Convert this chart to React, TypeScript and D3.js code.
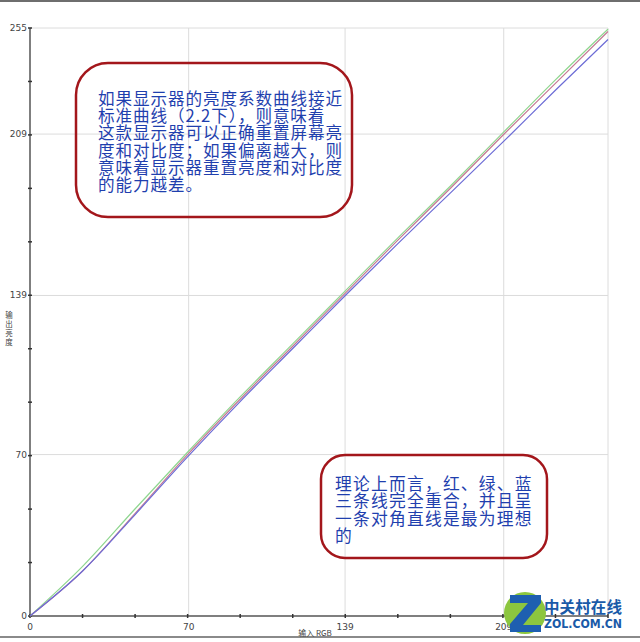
import React from "react";
import * as d3 from "d3";

const inputs = [0, 23.2, 46.4, 69.5, 92.7, 115.9, 139.1, 162.3, 185.5, 208.6, 231.8, 255];
const greenOut = [0, 21.5, 46.5, 71, 95, 118, 141, 164, 186.5, 209.5, 232.5, 254.5];
const redOut = [0, 19.5, 44.5, 70, 94, 117, 140, 163, 185.5, 208.5, 231, 253.5];
const blueOut = [0, 19.5, 44, 69, 93, 116, 139, 161.5, 183.5, 205.5, 228, 250];
const majorTicks = [0, 70, 139, 209, 255];
const tickCount = 11;
const note1 = [
  "如果显示器的亮度系数曲线接近",
  "标准曲线（2.2下），则意味着",
  "这款显示器可以正确重置屏幕亮",
  "度和对比度；如果偏离越大，则",
  "意味着显示器重置亮度和对比度",
  "的能力越差。",
];
const note2 = ["理论上而言，红、绿、蓝", "三条线完全重合，并且呈", "一条对角直线是最为理想", "的"];
const xLabel = "输入 RGB";
const yLabel = ["输", "出", "亮", "度"];

const series = [
  { name: "green", values: greenOut, color: "#8fd68f" },
  { name: "red", values: redOut, color: "#c47a94" },
  { name: "blue", values: blueOut, color: "#6c6cd6" },
];

export default function App() {
  const W = 640, H = 642;
  const x = d3.scaleLinear().domain([0, 255]).range([30, 608]);
  const y = d3.scaleLinear().domain([0, 255]).range([616, 28]);
  const minor = d3.range(tickCount + 1).map((i) => (255 / tickCount) * i);
  const line = d3
    .line<number>()
    .x((_, i) => x(inputs[i]))
    .y((d) => y(d))
    .curve(d3.curveMonotoneX);
  const cjk = "'Noto Sans CJK SC', 'Noto Sans', sans-serif";
  const grid = "#dcdcdc";
  return (
    <svg width={W} height={H} style={{ position: "absolute", left: 0, top: 0, background: "#fff" }}>
      <rect x={0} y={0} width={W} height={H} fill="#fff" />
      <rect x={0} y={0} width={W} height={2} fill="#6e6e6e" />
      <rect x={0} y={636} width={W} height={2} fill="#8a8a8a" />
      {/* gridlines */}
      {majorTicks.slice(1).map((t) => (
        <g key={"g" + t}>
          <line x1={x(0)} x2={x(255)} y1={y(t)} y2={y(t)} stroke={grid} strokeWidth={1} />
          <line x1={x(t)} x2={x(t)} y1={y(0)} y2={y(255)} stroke={grid} strokeWidth={1} />
        </g>
      ))}
      {/* axes */}
      <line x1={x(0)} x2={x(0)} y1={y(0)} y2={y(255)} stroke="#555" strokeWidth={1.5} />
      <line x1={x(0)} x2={x(255)} y1={y(0)} y2={y(0)} stroke="#555" strokeWidth={1.5} />
      {minor.map((t, i) => (
        <g key={"m" + i}>
          <line x1={x(t)} x2={x(t)} y1={y(0) - 2} y2={y(0) + 2} stroke="#333" strokeWidth={1.5} />
          <line x1={x(0) - 2} x2={x(0) + 2} y1={y(t)} y2={y(t)} stroke="#333" strokeWidth={1.5} />
        </g>
      ))}
      {majorTicks.map((t) => (
        <text key={"yl" + t} x={x(0) - 3} y={y(t) + 3} fontSize={9} textAnchor="end" fill="#444" fontFamily="'DejaVu Sans', sans-serif">
          {t}
        </text>
      ))}
      {majorTicks.slice(0, 4).map((t) => (
        <text key={"xl" + t} x={x(t)} y={630} fontSize={9} textAnchor="middle" fill="#444" fontFamily="'DejaVu Sans', sans-serif">
          {t}
        </text>
      ))}
      <text x={315} y={636} fontSize={8} textAnchor="middle" fill="#444" fontFamily={cjk}>
        {xLabel}
      </text>
      {yLabel.map((c, i) => (
        <text key={"yc" + i} x={9} y={318 + i * 9} fontSize={7.5} textAnchor="middle" fill="#444" fontFamily={cjk}>
          {c}
        </text>
      ))}
      {/* curves */}
      {series.map((s) => (
        <path key={s.name} d={line(s.values) || ""} fill="none" stroke={s.color} strokeWidth={1.2} />
      ))}
      {/* note 1 */}
      <rect x={76} y={63} width={276} height={154} rx={32} ry={32} fill="none" stroke="#a3161b" strokeWidth={2.5} />
      {note1.map((t, i) => (
        <text key={"n1" + i} x={98} y={105 + i * 17.2} fontSize={16.6} letterSpacing={0.9} fill="#1f3fae" fontFamily={cjk}>
          {t}
        </text>
      ))}
      {/* note 2 */}
      <rect x={321} y={455} width={226} height={103} rx={24} ry={24} fill="none" stroke="#a3161b" strokeWidth={2.5} />
      {note2.map((t, i) => (
        <text key={"n2" + i} x={335} y={490 + i * 17.4} fontSize={16.8} letterSpacing={1.2} fill="#1f3fae" fontFamily={cjk}>
          {t}
        </text>
      ))}
      {/* watermark */}
      <circle cx={525} cy={613} r={21} fill="#8cc63f" />
      <polygon
        points="510,595 541,595 541,603 523,625 541,625 541,632 510,632 510,624 528,603 510,603"
        fill="#1e5fb0"
      />
      <text x={544} y={613} fontSize={15.5} fontWeight="bold" fill="#1a5aa8" fontFamily={cjk} textLength={78}>
        中关村在线
      </text>
      <text x={544} y={628} fontSize={12.5} fontWeight="bold" fill="#1a5aa8" fontFamily="'DejaVu Sans', sans-serif" textLength={78} lengthAdjust="spacingAndGlyphs">
        ZOL.COM.CN
      </text>
    </svg>
  );
}
